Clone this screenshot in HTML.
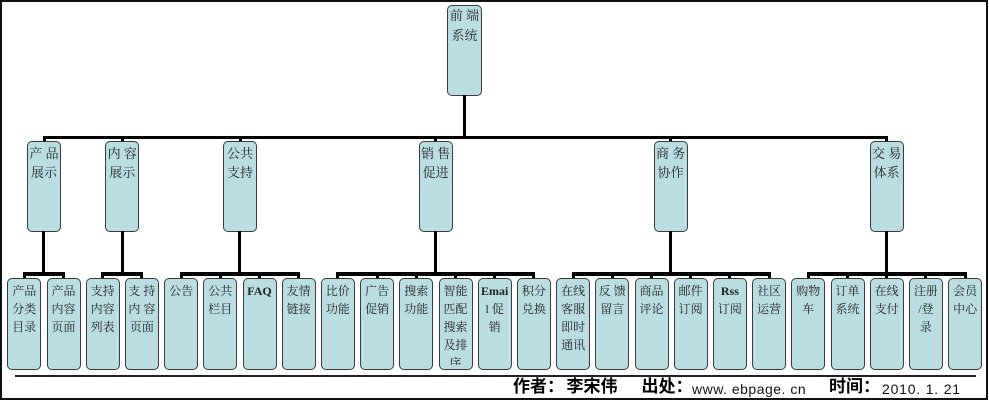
<!DOCTYPE html>
<html><head><meta charset="utf-8"><style>
html,body{margin:0;padding:0;background:#fff;}
body{width:989px;height:400px;position:relative;overflow:hidden;}
.frame{position:absolute;left:0;top:0;width:988px;height:400px;box-sizing:border-box;border:2px solid #111;}
.n{position:absolute;box-sizing:border-box;width:34px;background:#badde1;border:1px solid #3a3a3a;border-radius:5px;overflow:hidden;text-align:center;color:#222;font-family:"Liberation Serif","Noto Serif CJK SC",serif;}
.top{left:447px;top:5px;width:35px;height:91px;font-size:13px;line-height:20px;padding-top:0px;}
.l2{top:141px;height:91px;font-size:13px;line-height:19px;padding-top:1.5px;}
.lf{top:277.5px;height:92px;font-size:12px;line-height:18px;padding-top:3px;}
.clip{position:absolute;left:0;top:0;width:100%;height:86px;overflow:hidden;padding-top:3px;box-sizing:border-box;}
.k{position:absolute;background:#000;}
.ft{position:absolute;white-space:nowrap;color:#000;}
.fb{font-family:"Liberation Sans","Noto Sans CJK SC",sans-serif;font-weight:bold;font-size:17px;line-height:17px;top:378px;}
.fm{font-family:"Liberation Sans",sans-serif;font-size:14px;line-height:14px;top:382px;color:#111;}
</style></head><body>
<div class="frame"></div>

<!-- top node -->
<div class="n top">前 端<br>系统</div>
<div class="k" style="left:463.3px;top:95px;width:3px;height:42px;"></div>
<div class="k" style="left:42.5px;top:135.8px;width:845.7px;height:3.6px;"></div>

<!-- level 2 stubs -->
<div class="k" style="left:42.5px;top:138px;width:3px;height:4px;"></div>
<div class="k" style="left:120.8px;top:138px;width:3px;height:4px;"></div>
<div class="k" style="left:238.5px;top:138px;width:3px;height:4px;"></div>
<div class="k" style="left:434.2px;top:138px;width:3px;height:4px;"></div>
<div class="k" style="left:669.2px;top:138px;width:3px;height:4px;"></div>
<div class="k" style="left:885.2px;top:138px;width:3px;height:4px;"></div>

<!-- level 2 nodes -->
<div class="n l2" style="left:27px;">产 品<br>展示</div>
<div class="n l2" style="left:105.3px;">内 容<br>展示</div>
<div class="n l2" style="left:223px;">公共<br>支持</div>
<div class="n l2" style="left:418.7px;">销 售<br>促进</div>
<div class="n l2" style="left:653.7px;">商 务<br>协作</div>
<div class="n l2" style="left:869.7px;">交 易<br>体系</div>

<!-- level 2 down verticals -->
<div class="k" style="left:42.2px;top:231px;width:3px;height:43px;"></div>
<div class="k" style="left:120.8px;top:231px;width:3px;height:43px;"></div>
<div class="k" style="left:237.9px;top:231px;width:3px;height:43px;"></div>
<div class="k" style="left:434.3px;top:231px;width:3px;height:43px;"></div>
<div class="k" style="left:669.3px;top:231px;width:3px;height:43px;"></div>
<div class="k" style="left:885px;top:231px;width:3px;height:43px;"></div>

<!-- group bars -->
<div class="k" style="left:22.8px;top:272.3px;width:42.2px;height:4px;"></div>
<div class="k" style="left:101.2px;top:272.3px;width:42.2px;height:4px;"></div>
<div class="k" style="left:179.6px;top:272.3px;width:120.6px;height:4px;"></div>
<div class="k" style="left:336.4px;top:272.3px;width:199px;height:4px;"></div>
<div class="k" style="left:571.6px;top:272.3px;width:199px;height:4px;"></div>
<div class="k" style="left:806.8px;top:272.3px;width:159.8px;height:4px;"></div>

<!-- leaf stubs -->
<div class="k" style="left:22.8px;top:273px;width:3px;height:5px;"></div>
<div class="k" style="left:62px;top:273px;width:3px;height:5px;"></div>
<div class="k" style="left:101.2px;top:273px;width:3px;height:5px;"></div>
<div class="k" style="left:140.4px;top:273px;width:3px;height:5px;"></div>
<div class="k" style="left:179.6px;top:273px;width:3px;height:5px;"></div>
<div class="k" style="left:218.8px;top:273px;width:3px;height:5px;"></div>
<div class="k" style="left:258px;top:273px;width:3px;height:5px;"></div>
<div class="k" style="left:297.2px;top:273px;width:3px;height:5px;"></div>
<div class="k" style="left:336.4px;top:273px;width:3px;height:5px;"></div>
<div class="k" style="left:375.6px;top:273px;width:3px;height:5px;"></div>
<div class="k" style="left:414.8px;top:273px;width:3px;height:5px;"></div>
<div class="k" style="left:454px;top:273px;width:3px;height:5px;"></div>
<div class="k" style="left:493.2px;top:273px;width:3px;height:5px;"></div>
<div class="k" style="left:532.4px;top:273px;width:3px;height:5px;"></div>
<div class="k" style="left:571.6px;top:273px;width:3px;height:5px;"></div>
<div class="k" style="left:610.8px;top:273px;width:3px;height:5px;"></div>
<div class="k" style="left:650px;top:273px;width:3px;height:5px;"></div>
<div class="k" style="left:689.2px;top:273px;width:3px;height:5px;"></div>
<div class="k" style="left:728.4px;top:273px;width:3px;height:5px;"></div>
<div class="k" style="left:767.6px;top:273px;width:3px;height:5px;"></div>
<div class="k" style="left:806.8px;top:273px;width:3px;height:5px;"></div>
<div class="k" style="left:846px;top:273px;width:3px;height:5px;"></div>
<div class="k" style="left:885.2px;top:273px;width:3px;height:5px;"></div>
<div class="k" style="left:924.4px;top:273px;width:3px;height:5px;"></div>
<div class="k" style="left:963.6px;top:273px;width:3px;height:5px;"></div>

<!-- leaves -->
<div class="n lf" style="left:7.3px;">产品<br>分类<br>目录</div>
<div class="n lf" style="left:46.5px;">产品<br>内容<br>页面</div>
<div class="n lf" style="left:85.7px;">支持<br>内容<br>列表</div>
<div class="n lf" style="left:124.9px;">支 持<br>内 容<br>页面</div>
<div class="n lf" style="left:164.1px;">公告</div>
<div class="n lf" style="left:203.3px;">公共<br>栏目</div>
<div class="n lf" style="left:242.5px;font-weight:bold;">FAQ</div>
<div class="n lf" style="left:281.7px;">友情<br>链接</div>
<div class="n lf" style="left:320.9px;">比价<br>功能</div>
<div class="n lf" style="left:360.1px;">广告<br>促销</div>
<div class="n lf" style="left:399.3px;">搜索<br>功能</div>
<div class="n lf" style="left:438.5px;padding-top:0;"><div class="clip">智能<br>匹配<br>搜索<br>及排<br>序</div></div>
<div class="n lf" style="left:477.7px;"><b>Emai</b><br>l 促<br>销</div>
<div class="n lf" style="left:516.9px;">积分<br>兑换</div>
<div class="n lf" style="left:556.1px;">在线<br>客服<br>即时<br>通讯</div>
<div class="n lf" style="left:595.3px;">反 馈<br>留言</div>
<div class="n lf" style="left:634.5px;">商品<br>评论</div>
<div class="n lf" style="left:673.7px;">邮件<br>订阅</div>
<div class="n lf" style="left:712.9px;"><b>Rss</b><br>订阅</div>
<div class="n lf" style="left:752.1px;">社区<br>运营</div>
<div class="n lf" style="left:791.3px;">购物<br>车</div>
<div class="n lf" style="left:830.5px;">订单<br>系统</div>
<div class="n lf" style="left:869.7px;">在线<br>支付</div>
<div class="n lf" style="left:908.9px;">注册<br>/登<br>录</div>
<div class="n lf" style="left:948.1px;">会员<br>中心</div>

<!-- footer -->
<div class="k" style="left:15px;top:375px;width:961px;height:1.5px;background:#222;"></div>
<div class="ft fb" style="left:513px;">作者：</div>
<div class="ft fb" style="left:566.5px;">李宋伟</div>
<div class="ft fb" style="left:641.5px;">出处：</div>
<div class="ft fm" style="left:692px;letter-spacing:0.5px;">www. ebpage. cn</div>
<div class="ft fb" style="left:829px;">时间：</div>
<div class="ft fm" style="left:882px;letter-spacing:0.8px;">2010. 1. 21</div>
</body></html>
